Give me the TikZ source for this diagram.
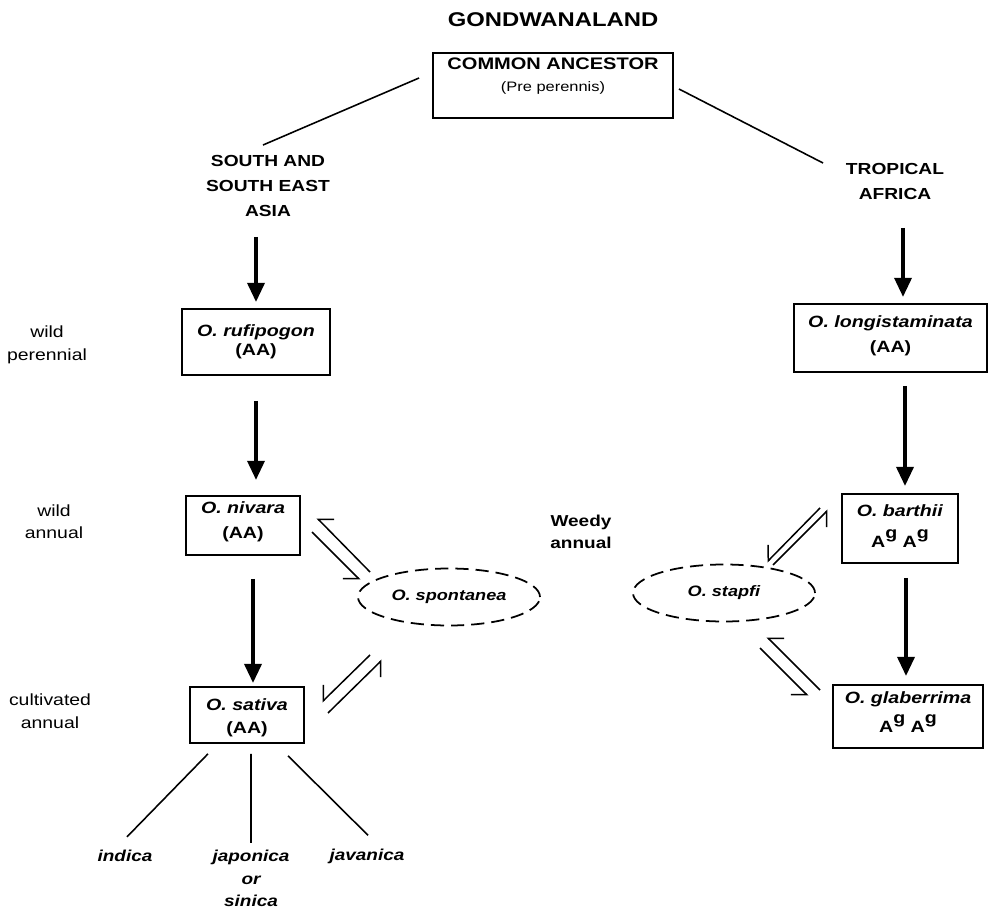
\documentclass[tikz,border=0pt]{standalone}
\usepackage{fontspec}
\setmainfont{Liberation Sans}[FakeStretch=1.2]
\usepackage{tikz}
\usetikzlibrary{shapes.geometric,arrows.meta,positioning,calc}
\newcommand{\gAg}{A\raisebox{0.6em}{g}}
\tikzset{
  taxon/.style={rectangle,draw,line width=1.1pt,align=center,inner sep=0pt,
                font=\fontsize{9.3}{11.3}\selectfont\bfseries},
  weedy/.style={ellipse,draw,line width=1pt,dash pattern=on 7.5pt off 4pt,
                minimum width=3.64cm,minimum height=1.14cm,inner sep=0pt,
                font=\fontsize{8.6}{10}\selectfont\bfseries\itshape},
  region/.style={align=center,inner sep=0pt,font=\fontsize{9.1}{14.2}\selectfont\bfseries},
  habit/.style={align=center,inner sep=0pt,font=\fontsize{9.2}{12.8}\selectfont},
  cultivar/.style={align=center,inner sep=0pt,font=\fontsize{9}{12.8}\selectfont\bfseries\itshape},
  descent/.style={-{Triangle[length=11pt,width=9.5pt]},line width=2.5pt},
  exchange/.style={-{Straight Barb[right,angle=90:9pt]},line width=0.85pt},
  branch/.style={line width=0.9pt},
}
\begin{document}
\begin{tikzpicture}
  \useasboundingbox (0,0) rectangle (19.78,18.18);
  \node[inner sep=0pt,font=\fontsize{11.3}{13}\selectfont\bfseries] (gond) at (11.06,17.78) {GONDWANALAND};
  \node[taxon,minimum width=4.8cm,text height=22.1pt,text depth=14.7pt] (anc) at (11.06,16.47)
    {\fontsize{9.5}{11.3}\selectfont COMMON ANCESTOR\\[1.5pt]\fontsize{7.8}{10}\selectfont\mdseries (Pre perennis)};
  \node[region] (sasia) at (5.36,14.46) {SOUTH AND\\SOUTH EAST\\ASIA};
  \node[region] (tafr) at (17.90,14.55) {TROPICAL\\AFRICA};
  % species boxes
  \node[taxon,minimum width=2.96cm,text height=26.6pt,text depth=10.8pt] (rufi) at (5.12,11.34)
    {\textit{O. rufipogon}\\(AA)};
  \node[taxon,minimum width=3.86cm,text height=27.8pt,text depth=10.8pt] (longi) at (17.81,11.42)
    {\textit{O. longistaminata}\\[2.9pt](AA)};
  \node[taxon,minimum width=2.28cm,text height=24.4pt,text depth=9.1pt] (niv) at (4.86,7.67)
    {\textit{O. nivara}\\[2.9pt](AA)};
  \node[taxon,minimum width=2.32cm,text height=30.6pt,text depth=8.5pt] (barth) at (18.00,7.61)
    {\textit{O. barthii}\\[6.3pt]\gAg\ \gAg};
  \node[taxon,minimum width=2.28cm,text height=26.1pt,text depth=5.6pt] (sat) at (4.94,3.88)
    {\textit{O. sativa}\\[1.7pt](AA)};
  \node[taxon,minimum width=3cm,text height=27.2pt,text depth=8.5pt] (glab) at (18.16,3.85)
    {\textit{O. glaberrima}\\[3.5pt]\gAg\ \gAg};
  \node[weedy] (spon) at (8.98,6.24) {O. spontanea};
  \node[weedy] (stap) at (14.48,6.32) {O. stapfi};
  % growth habit
  \node[habit] (wper) at (0.94,11.28) {wild\\perennial};
  \node[habit] (wann) at (1.08,7.75) {wild\\annual};
  \node[habit] (cann) at (1.0,3.96) {cultivated\\annual};
  \node[region,font=\fontsize{9}{12.5}\selectfont\bfseries] (wdy) at (11.62,7.54) {Weedy\\annual};
  \node[cultivar] (ind) at (2.50,1.06) {indica};
  \node[cultivar] (jap) at (5.02,0.61) {japonica\\or\\sinica};
  \node[cultivar] (jav) at (7.34,1.06) {javanica};

  \draw[branch] ([shift={(-0.26,0.15)}]anc.west) -- ([shift={(-0.1,0.2)}]sasia.north);
  \draw[branch] ([shift={(0.1,-0.07)}]anc.east) -- ([shift={(-1.44,0)}]tafr.north);

  \draw[descent,shorten <=0.4cm,shorten >=0.12cm] (rufi.north |- sasia.south) -- (rufi.north);
  \draw[descent,shorten <=0.5cm,shorten >=0.3cm] (rufi.south) -- (rufi.south |- niv.north);
  \draw[descent,shorten <=0.46cm,shorten >=0.06cm] ([xshift=0.2cm]niv.south) -- ([xshift=0.2cm]niv.south |- sat.north);
  \draw[descent,shorten <=0.56cm,shorten >=0.12cm] ([xshift=0.16cm]tafr.south) -- ([xshift=0.16cm]tafr.south |- longi.north);
  \draw[descent,shorten <=0.26cm,shorten >=0.14cm] ([xshift=0.1cm]barth.north |- longi.south) -- ([xshift=0.1cm]barth.north);
  \draw[descent,shorten <=0.28cm,shorten >=0.16cm] ([xshift=0.12cm]barth.south) -- ([xshift=0.12cm]barth.south |- glab.north);

  % gene flow with the weedy races
  \foreach \n/\x/\y in {nv1/7.40/6.74, nv2/6.34/7.82, nv3/6.24/7.54, nv4/7.20/6.58,
                        sv1/7.40/5.08, sv2/6.44/4.14, sv3/6.56/3.92, sv4/7.64/4.98,
                        bt1/16.40/8.02, bt2/15.34/6.94, bt3/15.46/6.88, bt4/16.56/7.98,
                        gl1/16.40/4.38, gl2/15.34/5.44, gl3/15.20/5.22, gl4/16.16/4.26}
    {\coordinate (\n) at (\x,\y);}
  \draw[exchange] (nv1) -- (nv2);
  \draw[exchange] (nv3) -- (nv4);
  \draw[exchange] (sv1) -- (sv2);
  \draw[exchange] (sv3) -- (sv4);
  \draw[exchange] (bt1) -- (bt2);
  \draw[exchange] (bt3) -- (bt4);
  \draw[exchange] (gl1) -- (gl2);
  \draw[exchange] (gl3) -- (gl4);

  \draw[branch] ([shift={(-0.78,-0.2)}]sat.south) -- ([shift={(0.04,0.26)}]ind.north);
  \draw[branch] ([shift={(0.08,-0.2)}]sat.south) -- ([shift={(0,0.14)}]jap.north);
  \draw[branch] ([shift={(0.82,-0.24)}]sat.south) -- ([shift={(0.02,0.26)}]jav.north);
\end{tikzpicture}
\end{document}
